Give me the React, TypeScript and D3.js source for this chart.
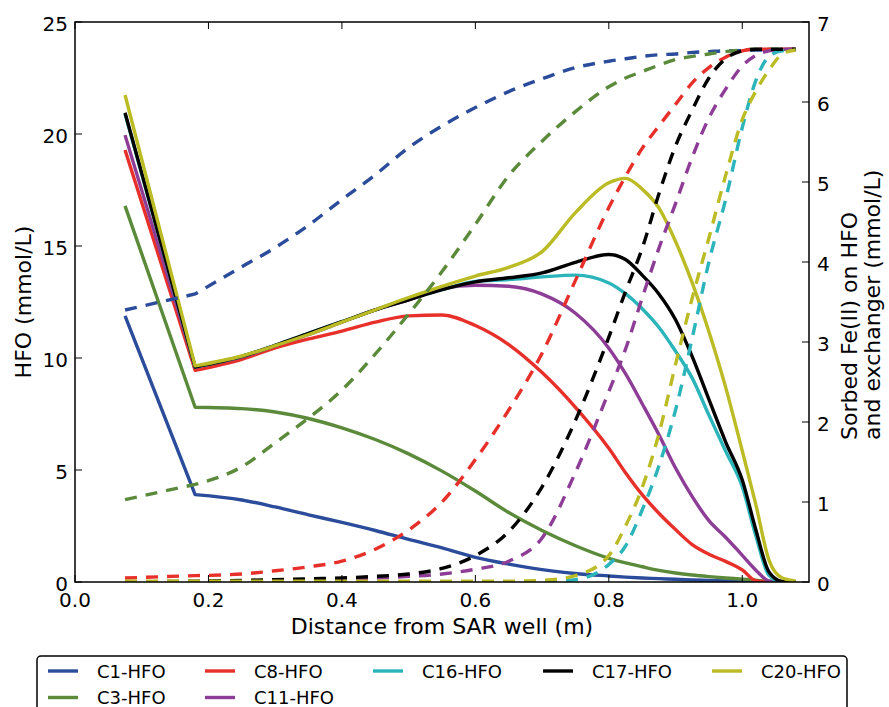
import React from 'react';
import * as d3 from 'd3';

// shared distance grid (m)
const xs = [0.075, 0.18, 0.25, 0.3, 0.35, 0.4, 0.45, 0.5, 0.55, 0.6, 0.65, 0.7, 0.75, 0.8, 0.825, 0.85, 0.875, 0.9, 0.925, 0.95, 0.975, 1.0, 1.02, 1.04, 1.06, 1.08];

// HFO (mmol/L), left axis, solid
const hfoC1 = [11.88, 3.9, 3.66, 3.35, 3.0, 2.66, 2.3, 1.9, 1.52, 1.1, 0.8, 0.55, 0.38, 0.27, 0.22, 0.18, 0.15, 0.12, 0.09, 0.07, 0.05, 0.03, 0.02, 0.01, 0.0, 0.0];
const hfoC3 = [16.79, 7.8, 7.74, 7.59, 7.3, 6.88, 6.36, 5.72, 4.95, 4.06, 3.1, 2.3, 1.62, 1.06, 0.85, 0.68, 0.52, 0.4, 0.31, 0.24, 0.18, 0.13, 0.08, 0.03, 0.01, 0.0];
const hfoC8 = [19.29, 9.45, 9.94, 10.45, 10.85, 11.2, 11.6, 11.88, 11.92, 11.45, 10.6, 9.35, 7.8, 5.97, 4.88, 3.9, 3.07, 2.34, 1.67, 1.24, 0.92, 0.54, 0.06, 0.0, 0.0, 0.0];
const hfoC11 = [19.95, 9.6, 10.05, 10.55, 11.05, 11.6, 12.15, 12.6, 13.1, 13.25, 13.2, 12.85, 12.0, 10.44, 9.3, 7.96, 6.58, 5.09, 3.81, 2.74, 2.0, 1.19, 0.54, 0.05, 0.0, 0.0];
const hfoC16 = [20.9, 9.6, 10.07, 10.57, 11.1, 11.62, 12.15, 12.65, 13.05, 13.42, 13.5, 13.62, 13.7, 13.35, 12.87, 12.2, 11.37, 10.3, 9.1, 7.45, 5.85, 4.25, 2.1, 0.3, 0.0, 0.0];
const hfoC17 = [20.95, 9.6, 10.07, 10.57, 11.1, 11.62, 12.15, 12.6, 13.05, 13.4, 13.58, 13.8, 14.27, 14.62, 14.4, 13.7, 12.86, 11.71, 10.06, 8.15, 6.26, 4.55, 2.37, 0.45, 0.03, 0.0];
const hfoC20 = [21.74, 9.65, 10.09, 10.55, 11.05, 11.6, 12.15, 12.7, 13.2, 13.66, 14.05, 14.75, 16.49, 17.82, 18.02, 17.54, 16.7, 15.2, 13.35, 11.17, 8.7, 5.85, 3.5, 0.98, 0.18, 0.05];

// Sorbed Fe(II) (mmol/L), right axis, dashed
const sorbC1 = [3.4, 3.6, 3.94, 4.18, 4.46, 4.78, 5.09, 5.43, 5.7, 5.93, 6.13, 6.29, 6.43, 6.51, 6.54, 6.57, 6.59, 6.6, 6.62, 6.63, 6.64, 6.64, 6.65, 6.65, 6.65, 6.65];
const sorbC3 = [1.03, 1.22, 1.44, 1.74, 2.05, 2.4, 2.85, 3.35, 3.88, 4.47, 5.08, 5.51, 5.88, 6.19, 6.3, 6.38, 6.46, 6.53, 6.57, 6.6, 6.63, 6.65, 6.66, 6.66, 6.66, 6.66];
const sorbC8 = [0.05, 0.08, 0.1, 0.14, 0.19, 0.26, 0.41, 0.65, 1.0, 1.53, 2.15, 2.86, 3.77, 4.68, 5.07, 5.42, 5.7, 5.97, 6.24, 6.43, 6.56, 6.64, 6.66, 6.66, 6.66, 6.66];
const sorbC11 = [0.0, 0.0, 0.01, 0.02, 0.03, 0.04, 0.05, 0.07, 0.1, 0.16, 0.26, 0.55, 1.37, 2.38, 2.91, 3.55, 4.17, 4.73, 5.31, 5.8, 6.16, 6.45, 6.58, 6.64, 6.66, 6.66];
const sorbC16 = [0, 0, 0, 0, 0, 0, 0, 0, 0, 0, 0, 0.005, 0.03, 0.22, 0.45, 0.9, 1.45, 2.15, 3.05, 4.0, 4.78, 5.68, 6.26, 6.57, 6.64, 6.65];
const sorbC17 = [0.0, 0.01, 0.02, 0.03, 0.04, 0.05, 0.07, 0.1, 0.17, 0.33, 0.63, 1.19, 2.02, 3.06, 3.63, 4.17, 4.85, 5.45, 5.9, 6.3, 6.54, 6.64, 6.66, 6.66, 6.66, 6.66];
const sorbC20 = [0.01, 0.01, 0.01, 0.01, 0.01, 0.01, 0.01, 0.01, 0.01, 0.01, 0.01, 0.02, 0.08, 0.33, 0.7, 1.18, 1.85, 2.72, 3.55, 4.3, 5.08, 5.78, 6.13, 6.4, 6.6, 6.65];

const seriesNames = ['C1-HFO', 'C3-HFO', 'C8-HFO', 'C11-HFO', 'C16-HFO', 'C17-HFO', 'C20-HFO'];
const seriesColors = ['#2b4c9b', '#5a8a3a', '#e8302a', '#8e3d97', '#2bb5bb', '#000000', '#bbbb25'];
const hfoSeries = [hfoC1, hfoC3, hfoC8, hfoC11, hfoC16, hfoC17, hfoC20];
const sorbSeries = [sorbC1, sorbC3, sorbC8, sorbC11, sorbC16, sorbC17, sorbC20];

const xTicks = [0, 0.2, 0.4, 0.6, 0.8, 1.0];
const yLeftTicks = [0, 5, 10, 15, 20, 25];
const yRightTicks = [0, 1, 2, 3, 4, 5, 6, 7];

const W = 889;
const H = 707;
const L = 75, R = 809, T = 22, B = 582;
const FONT = 'DejaVu Sans, Verdana, sans-serif';

// legend layout: column order like matplotlib (ncol=5, filled column-wise)
const legendCols = [48, 205, 373, 543, 712];
const legendRows = [671, 697.5];
const legendSlots = [[0, 0], [0, 1], [1, 0], [1, 1], [2, 0], [3, 0], [4, 0]];

export default function App() {
  const x = d3.scaleLinear().domain([0, 1.1]).range([L, R]);
  const yL = d3.scaleLinear().domain([0, 25]).range([B, T]);
  const yR = d3.scaleLinear().domain([0, 7]).range([B, T]);

  const makePath = (vals: number[], y: d3.ScaleLinear<number, number>) => {
    const pts: [number, number][] = xs.map((xv, i) => [x(xv), y(vals[i])]);
    const gen = d3.line().curve(d3.curveMonotoneX);
    const rest = gen(pts.slice(1)) || '';
    return `M${pts[0][0]},${pts[0][1]}L` + rest.slice(1);
  };

  const fmt = d3.format('.1f');

  return (
    <svg width={W} height={H} style={{ position: 'absolute', left: 0, top: 0, background: '#fff' }} fontFamily={FONT}>
      <rect x={0} y={0} width={W} height={H} fill="#fff" />
      <defs>
        <clipPath id="plotclip">
          <rect x={L} y={T - 2} width={R - L} height={B - T + 2} />
        </clipPath>
      </defs>

      <g clipPath="url(#plotclip)">
        {hfoSeries.map((s, i) => (
          <path key={'h' + i} d={makePath(s, yL)} fill="none" stroke={seriesColors[i]} strokeWidth={3.4} strokeLinejoin="round" />
        ))}
        {sorbSeries.map((s, i) => (
          <path key={'s' + i} d={makePath(s, yR)} fill="none" stroke={seriesColors[i]} strokeWidth={3.4} strokeDasharray="12,9" />
        ))}
      </g>

      {/* frame */}
      <rect x={L} y={T} width={R - L} height={B - T} fill="none" stroke="#000" strokeWidth={1.5} />

      {/* x ticks */}
      {xTicks.map((t) => (
        <g key={'xt' + t}>
          <line x1={x(t)} x2={x(t)} y1={B} y2={B - 7} stroke="#000" strokeWidth={1} />
          <line x1={x(t)} x2={x(t)} y1={T} y2={T + 7} stroke="#000" strokeWidth={1} />
          <text x={x(t)} y={607} fontSize={20} textAnchor="middle" fill="#000">{fmt(t)}</text>
        </g>
      ))}

      {/* left y ticks */}
      {yLeftTicks.map((t) => (
        <g key={'yl' + t}>
          <line x1={L} x2={L + 7} y1={yL(t)} y2={yL(t)} stroke="#000" strokeWidth={1} />
          <text x={68} y={yL(t) + 8.5} fontSize={20} textAnchor="end" fill="#000">{t}</text>
        </g>
      ))}

      {/* right y ticks */}
      {yRightTicks.map((t) => (
        <g key={'yr' + t}>
          <line x1={R - 7} x2={R} y1={yR(t)} y2={yR(t)} stroke="#000" strokeWidth={1} />
          <text x={817} y={yR(t) + 8.5} fontSize={20} textAnchor="start" fill="#000">{t}</text>
        </g>
      ))}

      {/* axis labels */}
      <text x={(L + R) / 2} y={634} fontSize={22} textAnchor="middle" fill="#000">Distance from SAR well (m)</text>
      <text transform={`translate(31,${(T + B) / 2}) rotate(-90)`} fontSize={22} textAnchor="middle" fill="#000">HFO (mmol/L)</text>
      <text transform={`translate(857,440) rotate(-90)`} fontSize={22} textAnchor="start" fill="#000">Sorbed Fe(II) on HFO</text>
      <text transform={`translate(880,440) rotate(-90)`} fontSize={22} textAnchor="start" fill="#000">and exchanger (mmol/L)</text>

      {/* legend */}
      <rect x={37} y={656} width={810} height={70} rx={4} ry={4} fill="#fff" stroke="#000" strokeWidth={1.5} />
      {seriesNames.map((name, i) => {
        const [c, r] = legendSlots[i];
        const lx = legendCols[c];
        const ly = legendRows[r];
        return (
          <g key={'lg' + i}>
            <line x1={lx} x2={lx + 30} y1={ly} y2={ly} stroke={seriesColors[i]} strokeWidth={3.4} />
            <text x={lx + 49} y={ly + 6.7} fontSize={18} fill="#000">{name}</text>
          </g>
        );
      })}
    </svg>
  );
}
